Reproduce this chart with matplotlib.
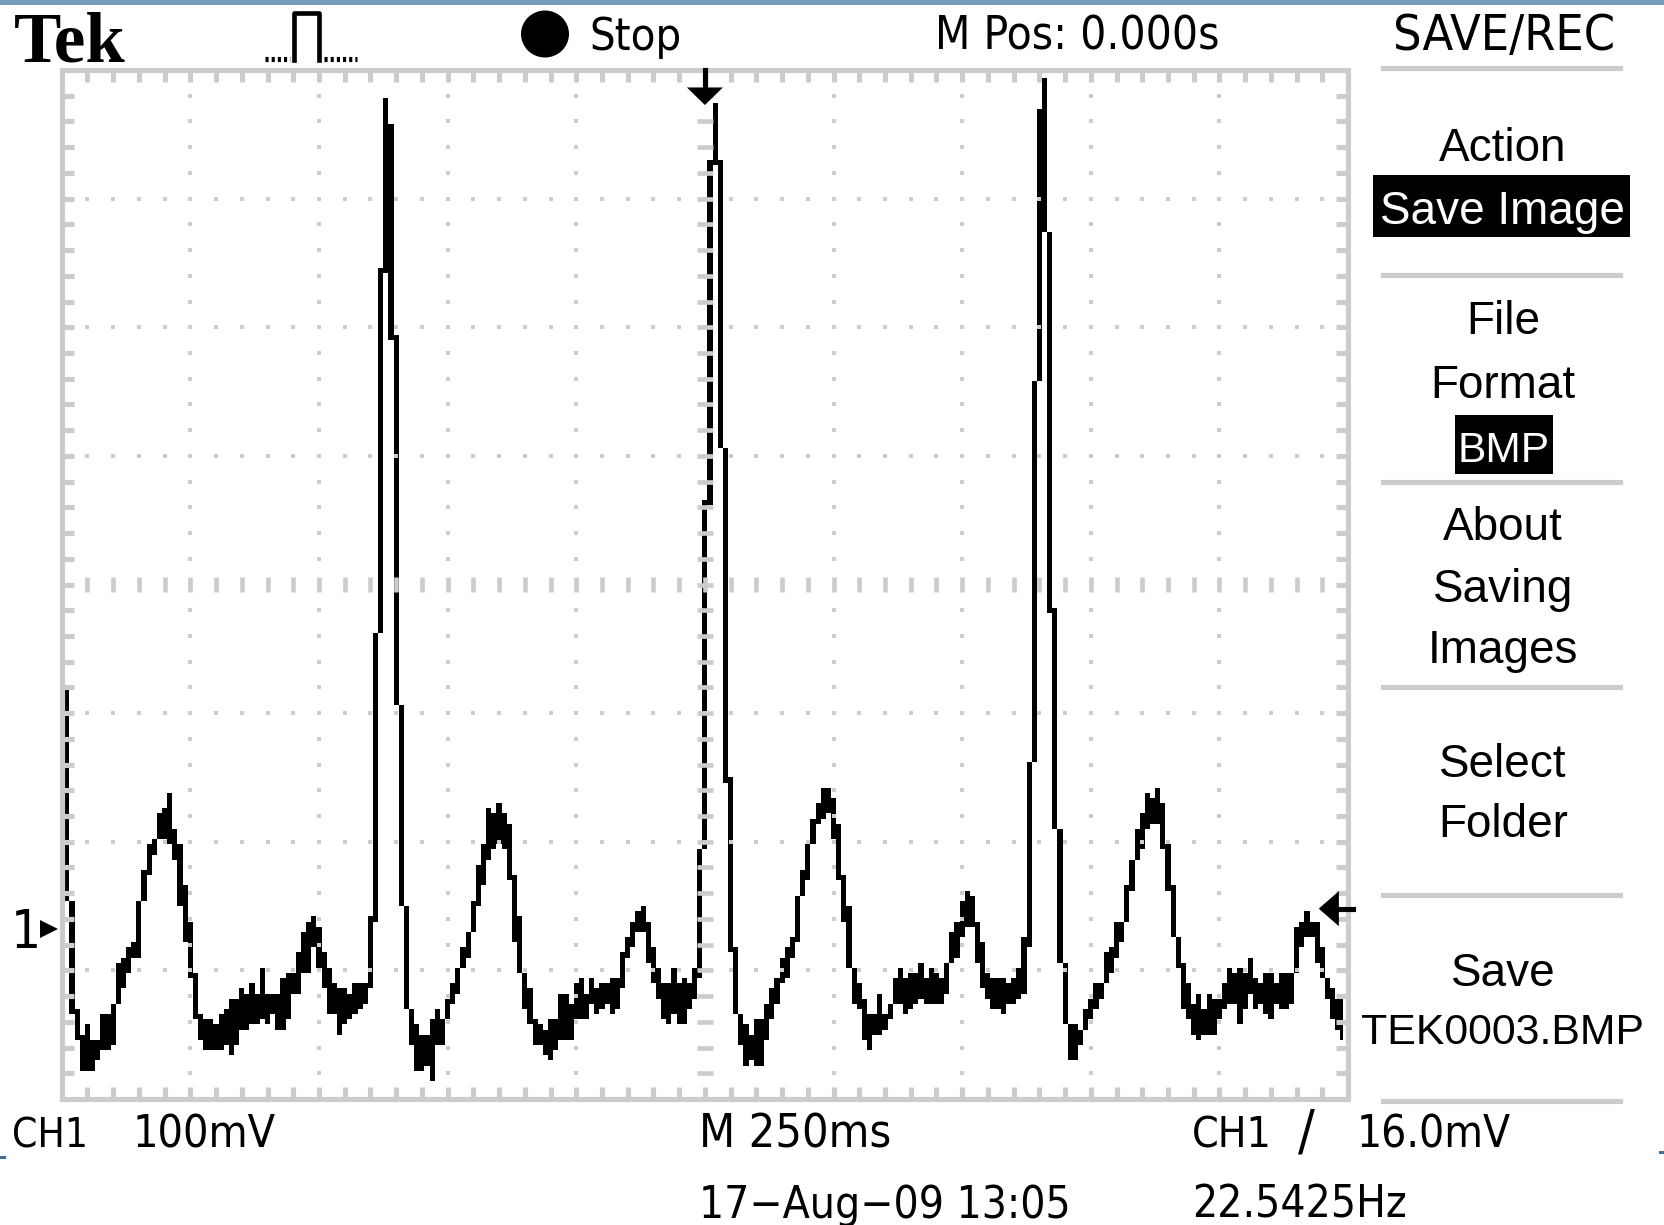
import numpy as np
import matplotlib
matplotlib.use("Agg")
import matplotlib.pyplot as plt
from matplotlib import font_manager as fm
from matplotlib.patches import Rectangle, Ellipse
from matplotlib.lines import Line2D

W, H = 1665, 1225

# scope screen: 250 columns x 200 rows (25 px / div), 250 ms/div, 100 mV/div
cols = np.arange(250)

# top / bottom lit pixel of the trace in each screen column (rows from bottom)
trace_hi = [
    132, 79, 38, 17, 12, 14, 11, 11, 16, 16,
    18, 26, 27, 29, 30, 38, 44, 49, 50, 55,
    56, 59, 52, 49, 41, 34, 24, 16, 15, 15,
    14, 16, 17, 19, 19, 21, 20, 22, 20, 25,
    20, 20, 20, 23, 24, 24, 28, 32, 34, 35,
    33, 28, 25, 22, 21, 21, 20, 22, 22, 22,
    35, 90, 161, 194, 189, 148, 76, 37, 17, 14,
    12, 12, 15, 17, 15, 19, 22, 25, 29, 32,
    38, 45, 49, 56, 55, 57, 55, 53, 43, 35,
    24, 21, 15, 14, 13, 15, 15, 20, 20, 18,
    22, 23, 20, 23, 21, 22, 22, 23, 23, 28,
    31, 34, 36, 37, 34, 29, 25, 22, 22, 25,
    22, 23, 22, 25, 48, 116, 182, 193, 182, 126,
    62, 29, 16, 14, 12, 15, 15, 18, 21, 23,
    27, 29, 31, 39, 44, 49, 54, 57, 60, 60,
    58, 53, 43, 37, 25, 22, 19, 16, 16, 20,
    16, 18, 23, 25, 23, 24, 24, 26, 23, 25,
    24, 23, 26, 32, 34, 38, 40, 39, 34, 30,
    24, 23, 23, 23, 22, 23, 25, 31, 65, 139,
    192, 198, 168, 95, 52, 26, 14, 14, 13, 17,
    19, 22, 22, 28, 29, 34, 34, 41, 46, 52,
    55, 59, 58, 60, 57, 49, 41, 31, 26, 22,
    18, 20, 17, 20, 19, 19, 22, 25, 24, 25,
    24, 27, 23, 22, 24, 24, 22, 24, 24, 24,
    33, 34, 36, 34, 34, 29, 23, 21, 19, 20,
]
trace_lo = [
    80, 39, 17, 12, 6, 6, 6, 8, 10, 10,
    11, 19, 22, 25, 28, 28, 39, 44, 48, 51,
    51, 50, 47, 38, 31, 24, 16, 12, 10, 10,
    10, 10, 11, 9, 11, 14, 14, 15, 15, 16,
    15, 17, 14, 14, 16, 21, 21, 25, 25, 30,
    26, 22, 17, 17, 13, 15, 16, 17, 18, 19,
    22, 35, 91, 161, 148, 77, 38, 18, 11, 6,
    6, 7, 4, 11, 11, 16, 19, 21, 26, 28,
    33, 38, 42, 47, 49, 50, 49, 43, 31, 25,
    18, 15, 11, 11, 9, 8, 10, 12, 12, 12,
    16, 16, 16, 19, 17, 18, 19, 17, 18, 22,
    28, 30, 33, 33, 27, 23, 20, 16, 15, 17,
    15, 15, 18, 20, 24, 49, 116, 182, 127, 62,
    29, 17, 11, 7, 8, 7, 7, 12, 16, 19,
    23, 24, 28, 31, 40, 43, 50, 54, 55, 56,
    51, 43, 35, 26, 19, 18, 12, 10, 13, 13,
    14, 16, 19, 19, 17, 18, 19, 20, 19, 19,
    19, 19, 21, 27, 28, 32, 34, 34, 27, 22,
    20, 18, 18, 17, 19, 19, 20, 21, 30, 66,
    140, 169, 95, 53, 27, 15, 8, 8, 11, 14,
    16, 18, 20, 23, 25, 28, 31, 35, 41, 47,
    49, 53, 54, 54, 49, 41, 32, 26, 18, 16,
    13, 12, 13, 13, 13, 16, 18, 19, 19, 15,
    18, 21, 18, 19, 17, 16, 19, 18, 18, 19,
    25, 30, 32, 32, 27, 24, 20, 16, 14, 12,
]

ground_row = 33          # CH1 ground marker
trig_level_mv = 16.0     # trigger level
mv_per_row = 4.0         # 100 mV/div / 25 rows
trig_col = 125           # M Pos 0.000s -> screen centre

menu_lines = [68, 275, 482, 687, 895, 1101]
# label, baseline y, width in the reference
menu_text = [
    ("Action", 161, 134), ("File", 334, 68), ("Format", 398, 151),
    ("About", 540, 123), ("Saving", 602, 142), ("Images", 663, 147),
    ("Select", 777, 129), ("Folder", 837, 124), ("Save", 986, 105),
    ("TEK0003.BMP", 1044, 278),
]

GRID = "#cccccc"
PX = 5.144 * 72 / 100    # one screen pixel in points


def narrow_font():
    # the scope font is tall and narrow: use a condensed face if one exists
    entries = fm.fontManager.ttflist
    for want in ["condensed", "semi-condensed", "extra-condensed"]:
        for name in ["Liberation Sans Narrow", "DejaVu Sans", "Noto Sans",
                     "Open Sans", "Roboto", "Lato", "Inter"]:
            for f in entries:
                ok_stretch = f.stretch == want or (name.endswith("Narrow") and f.name == name)
                if f.name == name and ok_stretch and f.style == "normal" and f.weight in (400, "normal", "regular"):
                    return fm.FontProperties(fname=f.fname)
    return fm.FontProperties(family="Liberation Sans")


NARROW = narrow_font()
MENU = fm.FontProperties(family="Liberation Sans")


def fx(x):
    return x / W


def fy(y):
    return 1 - y / H


fig = plt.figure(figsize=(W / 100, H / 100), dpi=100)
fig.patch.set_facecolor("white")
renderer = fig.canvas.get_renderer()


def put(x, y, s, width, size, fp=NARROW, **kw):
    t = fig.text(fx(x), fy(y), s, fontproperties=fp, va="baseline", **kw)
    t.set_fontsize(size)
    w = t.get_window_extent(renderer=renderer).width
    if w > width:
        t.set_fontsize(size * width / w)
    return t


ax = fig.add_axes([59.1 / W, 1 - 1101.6 / H, 1291.6 / W, 1034.2 / H])
ax.set_xlim(-0.5, 250.5)
ax.set_ylim(-0.5, 200.5)
ax.axis("off")

# trace
lo = np.array(trace_lo) - 0.5
hi = np.array(trace_hi) + 0.5
ax.fill_between(cols, lo, hi, step="mid", color="black", lw=0, zorder=2)

# graticule
ax.plot([0, 250, 250, 0, 0], [0, 0, 200, 200, 0], color=GRID, lw=PX,
        solid_joinstyle="miter", clip_on=False, zorder=3)
tx = np.arange(5, 250, 5)
ty = np.arange(5, 200, 5)
ax.vlines(tx, 0, 2.4, color=GRID, lw=PX, zorder=3)
ax.vlines(tx, 197.6, 200, color=GRID, lw=PX, zorder=3)
ax.hlines(ty, 0, 2.4, color=GRID, lw=PX, zorder=3)
ax.hlines(ty, 247.6, 250, color=GRID, lw=PX, zorder=3)
for gx in [25, 50, 75, 100, 150, 175, 200, 225]:
    ax.plot(np.full(len(ty), gx), ty, "s", color=GRID, ms=PX * 0.9, mew=0, zorder=3)
for gy in [25, 50, 75, 125, 150, 175]:
    ax.plot(tx, np.full(len(tx), gy), "s", color=GRID, ms=PX * 0.9, mew=0, zorder=3)
ax.hlines(ty, 123.5, 126.5, color=GRID, lw=PX * 0.9, zorder=3)
ax.vlines(tx, 98.5, 101.5, color=GRID, lw=PX * 0.9, zorder=3)

# trigger position marker (top) and trigger level marker (right)
ax.plot([trig_col, trig_col], [200, 196], color="black", lw=PX, clip_on=False, zorder=4)
ax.fill([trig_col - 3.5, trig_col + 3.5, trig_col], [196.6, 196.6, 193.2],
        color="black", lw=0, clip_on=False, zorder=4)
trig_row = ground_row + trig_level_mv / mv_per_row
ax.plot([247.5, 251], [trig_row, trig_row], color="black", lw=PX, clip_on=False, zorder=4)
ax.fill([244.3, 248.2, 248.2], [trig_row, trig_row + 3.4, trig_row - 3.4],
        color="black", lw=0, clip_on=False, zorder=4)
ax.plot([-2.4], [ground_row], marker=">", ms=13, color="black", mew=0,
        clip_on=False, zorder=4)
put(11, 948, "1", 40, 38)

# header
fig.add_artist(Rectangle((0, fy(5)), 1, 5 / H, transform=fig.transFigure,
                         color="#749bb9", lw=0))
fig.text(fx(14), fy(62), "Tek", family="Liberation Serif", weight="bold",
         fontsize=51, va="baseline")
fig.add_artist(Line2D([fx(265), fx(290)], [fy(59), fy(59)], color="black",
                      lw=PX, ls=(0, (0.6, 0.6)), transform=fig.transFigure))
fig.add_artist(Line2D([fx(294), fx(294), fx(319), fx(319)],
                      [fy(60), fy(13), fy(13), fy(60)], color="black",
                      lw=PX * 0.9, transform=fig.transFigure))
fig.add_artist(Line2D([fx(324), fx(357)], [fy(59), fy(59)], color="black",
                      lw=PX, ls=(0, (0.6, 0.6)), transform=fig.transFigure))
fig.add_artist(Ellipse((fx(545), fy(34)), 48 / W, 47 / H,
                       transform=fig.transFigure, color="black", lw=0))
put(589, 50, "Stop", 92, 40)
put(935, 50, "M Pos: 0.000s", 284, 40)
put(1504, 50, "SAVE/REC", 222, 40, ha="center")

# footer
put(12, 1148, "CH1", 76, 40)
put(133, 1148, "100mV", 143, 40)
put(699, 1148, "M 250ms", 192, 40)
put(1192, 1148, "CH1", 80, 40)
put(1298, 1148, "/", 32, 40)
put(1357, 1148, "%.1fmV" % trig_level_mv, 154, 40)
put(699, 1218, "17\u2212Aug\u221209 13:05", 372, 40)
put(1192, 1218, "22.5425Hz", 214, 40)
fig.add_artist(Rectangle((0, fy(1159)), 6 / W, 3 / H, transform=fig.transFigure,
                         color="#3d6f9c", lw=0))
fig.add_artist(Rectangle((fx(1659), fy(1154)), 6 / W, 3 / H,
                         transform=fig.transFigure, color="#3d6f9c", lw=0))

# side menu
for y in menu_lines:
    fig.add_artist(Line2D([fx(1383), fx(1620)], [fy(y), fy(y)], color=GRID,
                          lw=PX, transform=fig.transFigure))
for label, y, w in menu_text:
    put(1503, y, label, w + 6, 33, fp=MENU, ha="center")
fig.add_artist(Rectangle((fx(1373), fy(237)), 257 / W, 62 / H,
                         transform=fig.transFigure, color="black", lw=0))
put(1502, 224, "Save Image", 250, 33, fp=MENU, ha="center", color="white")
fig.add_artist(Rectangle((fx(1455), fy(474)), 98 / W, 59 / H,
                         transform=fig.transFigure, color="black", lw=0))
put(1504, 462, "BMP", 92, 33, fp=MENU, ha="center", color="white")

fig.savefig("out.png", dpi=100)
plt.close(fig)
